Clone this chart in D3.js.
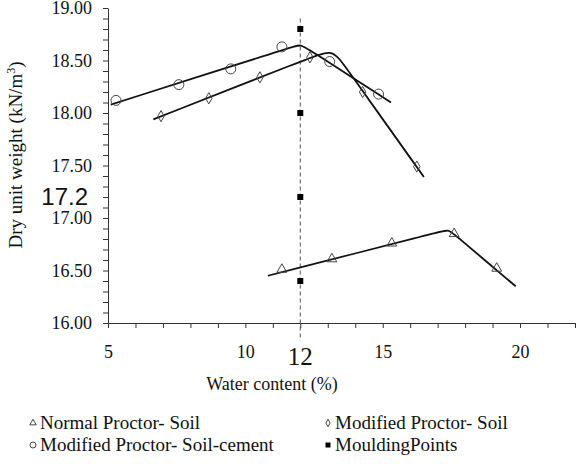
<!DOCTYPE html>
<html><head><meta charset="utf-8">
<script src="https://cdn.jsdelivr.net/npm/d3@7"></script>
<style>
body{margin:0;background:#fff;}
svg{display:block;}
.serif{font-family:"Liberation Serif","Times New Roman","DejaVu Serif",serif;}
.sans{font-family:"Liberation Sans",Arial,sans-serif;}
</style></head><body>
<svg id="chart" width="586" height="464"></svg>
<script>
// ---- data ----
const normalProctorSoil = [[11.33,16.51],[13.15,16.61],[15.33,16.76],[17.6,16.85],[19.15,16.52]];
const modifiedProctorSoil = [[6.93,17.97],[8.67,18.14],[10.53,18.34],[12.35,18.53],[14.27,18.20],[16.24,17.49]];
const modifiedProctorSoilCement = [[5.29,18.12],[7.58,18.27],[9.47,18.42],[11.33,18.63],[13.07,18.49],[14.85,18.18]];
const mouldingWater = 12;
const mouldingPoints = [18.8, 18.0, 17.2, 16.4];
// fitted trend lines (start, point before peak, peak corner, point after, end)
const fitNormal = [[10.82,16.45],[17.1,16.87],[17.4,16.89],[17.6,16.846],[19.84,16.35]];
const fitModified = [[6.65,17.94],[12.4,18.53],[13.18,18.61],[13.6,18.456],[16.5,17.39]];
const fitCement = [[5.1,18.08],[11.7,18.628],[12.02,18.655],[12.3,18.608],[15.3,18.10]];
const xTicks = [5,6,7,8,9,10,11,12,13,14,15,16,17,18,19,20,21,22];
const xTickLabels = [5,10,15,20];
const yTicks = d3.range(160,191).map(d=>d/10);
const yTickLabels = [16.0,16.5,17.0,17.5,18.0,18.5,19.0];
const legendItems = [
  {label:"Normal Proctor- Soil", sym:"triangle"},
  {label:"Modified Proctor- Soil", sym:"diamond"},
  {label:"Modified Proctor- Soil-cement", sym:"circle"},
  {label:"MouldingPoints", sym:"square"}
];

// ---- layout ----
const svg = d3.select("#chart");
const x = d3.scaleLinear().domain([5,22]).range([108,575]);
const y = d3.scaleLinear().domain([16,19]).range([323,8]);
const axisColor = "#333";

// axes
const yAxis = d3.axisLeft(y).tickValues(yTicks).tickSize(5).tickSizeOuter(0).tickPadding(11)
  .tickFormat(d => yTickLabels.some(v=>Math.abs(v-d)<1e-6) ? d.toFixed(2) : "");
const gy = svg.append("g").attr("transform",`translate(${x(5)},0)`).call(yAxis);
gy.attr("font-family",null).attr("font-size",null);
gy.selectAll("text").attr("class","serif").style("font-size","18px").attr("fill","#111");
gy.selectAll("line,path").attr("stroke",axisColor);

const xAxis = d3.axisBottom(x).tickValues(xTicks).tickSize(5).tickSizeOuter(0)
  .tickFormat(d => xTickLabels.includes(d) ? d : "");
const gx = svg.append("g").attr("transform",`translate(0,${y(16)})`).call(xAxis);
gx.attr("font-family",null).attr("font-size",null);
gx.selectAll("text").attr("class","serif").style("font-size","18px").attr("fill","#111").attr("y",22);
gx.selectAll("line,path").attr("stroke",axisColor);

// dashed moulding line
svg.append("line").attr("x1",x(mouldingWater)).attr("x2",x(mouldingWater))
  .attr("y1",y(18.9)).attr("y2",y(15.83))
  .attr("stroke","#555").attr("stroke-width",1).attr("stroke-dasharray","4,3");

// fit lines
const line = d3.line().x(d=>x(d[0])).y(d=>y(d[1])).curve(d3.curveBasis);
[fitNormal, fitModified, fitCement].forEach(f=>{
  svg.append("path").attr("d",line(f)).attr("fill","none").attr("stroke","#111").attr("stroke-width",1.8);
});

// symbols
const triSym = d3.symbol().type(d3.symbolTriangle);
const diaSym = d3.symbol().type(d3.symbolDiamond);
const mk = "#444";
svg.append("g").selectAll("path").data(normalProctorSoil).join("path")
  .attr("d",triSym.size(42)()).attr("transform",d=>`translate(${x(d[0])},${y(d[1])})`)
  .attr("fill","none").attr("stroke",mk).attr("stroke-width",1);
svg.append("g").selectAll("path").data(modifiedProctorSoil).join("path")
  .attr("d",diaSym.size(36)()).attr("transform",d=>`translate(${x(d[0])},${y(d[1])})`)
  .attr("fill","none").attr("stroke",mk).attr("stroke-width",1);
svg.append("g").selectAll("circle").data(modifiedProctorSoilCement).join("circle")
  .attr("cx",d=>x(d[0])).attr("cy",d=>y(d[1])).attr("r",5)
  .attr("fill","none").attr("stroke",mk).attr("stroke-width",1);
svg.append("g").selectAll("rect").data(mouldingPoints).join("rect")
  .attr("x",x(mouldingWater)-3).attr("y",d=>y(d)-3).attr("width",6).attr("height",6).attr("fill","#000");

// special labels
svg.append("text").attr("class","serif").attr("x",x(mouldingWater)).attr("y",365).attr("text-anchor","middle")
  .style("font-size","25px").attr("fill","#111").text("12");
svg.append("text").attr("class","sans").attr("x",88).attr("y",205).attr("text-anchor","end")
  .style("font-size","24px").attr("fill","#111").text("17.2");

// axis titles
svg.append("text").attr("class","serif").attr("x",272).attr("y",390).attr("text-anchor","middle")
  .style("font-size","18px").attr("fill","#111").text("Water content (%)");
const yt = svg.append("text").attr("class","serif").attr("transform","translate(22,155) rotate(-90)").attr("text-anchor","middle")
  .style("font-size","19px").attr("fill","#111");
yt.append("tspan").text("Dry unit weight (kN/m");
yt.append("tspan").style("font-size","12px").attr("dy",-7).text("3");
yt.append("tspan").attr("dy",7).text(")");

// legend
const legPos = [[33,423],[328,423],[33,445],[328,445]];
legendItems.forEach((it,i)=>{
  const [lx,ly] = legPos[i];
  const g = svg.append("g").attr("transform",`translate(${lx},${ly})`);
  if(it.sym==="triangle") g.append("path").attr("d",d3.symbol().type(d3.symbolTriangle).size(18)()).attr("fill","none").attr("stroke",mk);
  if(it.sym==="diamond") g.append("path").attr("d",d3.symbol().type(d3.symbolDiamond).size(16)()).attr("fill","none").attr("stroke",mk);
  if(it.sym==="circle") g.append("circle").attr("r",3).attr("fill","none").attr("stroke",mk);
  if(it.sym==="square") g.append("rect").attr("x",-2.5).attr("y",-2.5).attr("width",5).attr("height",5).attr("fill","#000");
  g.append("text").attr("class","serif").attr("x",7).attr("y",6).style("font-size","19px").attr("fill","#111").text(it.label);
});
</script>
</body></html>
